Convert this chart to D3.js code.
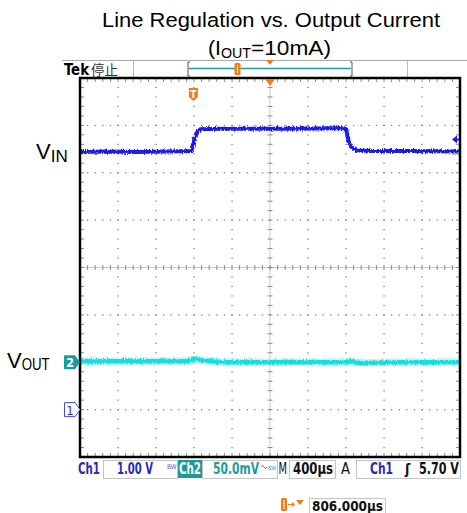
<!DOCTYPE html>
<html>
<head>
<meta charset="utf-8">
<script src="https://cdn.jsdelivr.net/npm/d3@7"></script>
<style>
  html, body { margin: 0; padding: 0; background: #fff; }
  svg { display: block; }
</style>
</head>
<body>
<svg id="chart" width="467" height="513"></svg>
<script>
// scope settings
const timePerDiv = 400;      // µs
const triggerDelay = 806;    // µs, trigger -> center
const ch1Scale = 1.0;        // V/div
const ch2Scale = 50;         // mV/div
const ch1Ground = -1;        // V at bottom of screen (ground marker 1 div above bottom)
const ch2Offset = -100;      // mV at bottom of screen

// VIN (Ch1) trace, time µs / volts
const vinT = [-1194, -900, -600, -300, -21, 3, 39, 74, 300, 700, 1100, 1450, 1590, 1607, 1635, 1671, 1723, 1900, 2300, 2806];
const vinV = [5.44, 5.45, 5.44, 5.45, 5.46, 5.66, 5.85, 5.92, 5.93, 5.93, 5.93, 5.94, 5.94, 5.92, 5.66, 5.53, 5.47, 5.46, 5.46, 5.45];

// VOUT (Ch2) trace, time µs / mV
const voutT = [-1194, -800, -400, -60, -10, 20, 80, 300, 800, 1200, 1600, 1660, 1760, 2200, 2806];
const voutV = [1, 1, 1, 1, 3, 4, 2, 0, 0, 0, 0, 1, -1, 0, 0];

// status bar
const statusCh1 = "1.00 V";
const statusCh2 = "50.0mV";
const statusTime = "400µs";
const statusTrig = "5.70 V";
const triggerLevel = 5.70;
const delayText = "806.000µs";

const svg = d3.select("#chart");
const blue = "#1e1ee6", cyan = "#18dede", teal = "#1c9b9b", orange = "#f27b1c";
const tekFont = "'DejaVu Sans Condensed', 'DejaVu Sans', sans-serif";
const arial = "'Liberation Sans', Arial, sans-serif";

const L = 80, R = 460, T = 78, B = 457;
const gx = d3.scaleLinear().domain([0, 10]).range([L, R]);
const gy = d3.scaleLinear().domain([0, 8]).range([T, B]);
const x = d3.scaleLinear().domain([triggerDelay - 5 * timePerDiv, triggerDelay + 5 * timePerDiv]).range([L, R]);
const y1 = d3.scaleLinear().domain([ch1Ground, ch1Ground + 8 * ch1Scale]).range([B, T]);
const y2 = d3.scaleLinear().domain([ch2Offset, ch2Offset + 8 * ch2Scale]).range([B, T]);

// noise filter for traces
const defs = svg.append("defs");
const f = defs.append("filter").attr("id", "noise").attr("x", "-5%").attr("y", "-50%").attr("width", "110%").attr("height", "200%");
f.append("feTurbulence").attr("type", "fractalNoise").attr("baseFrequency", "0.9 0.35").attr("numOctaves", 2).attr("seed", 3).attr("result", "t");
f.append("feDisplacementMap").attr("in", "SourceGraphic").attr("in2", "t").attr("scale", 4)
  .attr("xChannelSelector", "R").attr("yChannelSelector", "G");
defs.append("clipPath").attr("id", "scr").append("rect").attr("x", L + 1).attr("y", T + 1).attr("width", R - L - 2).attr("height", B - T - 2);

// ---- title ----
svg.append("text").attr("x", 102).attr("y", 27)
  .attr("font-family", arial).attr("font-size", 20).attr("fill", "#000")
  .attr("textLength", 338).attr("lengthAdjust", "spacingAndGlyphs")
  .text("Line Regulation vs. Output Current");
const sub = svg.append("text").attr("x", 208).attr("y", 55)
  .attr("font-family", arial).attr("font-size", 20).attr("fill", "#000");
sub.append("tspan").attr("textLength", 13).attr("lengthAdjust", "spacingAndGlyphs").text("(I");
sub.append("tspan").attr("font-size", 15).attr("dy", 3).attr("textLength", 30).attr("lengthAdjust", "spacingAndGlyphs").text("OUT");
sub.append("tspan").attr("dy", -3).attr("textLength", 80).attr("lengthAdjust", "spacingAndGlyphs").text("=10mA)");

// ---- top bar ----
svg.append("line").attr("x1", 62).attr("x2", 467).attr("y1", 60.5).attr("y2", 60.5).attr("stroke", "#aaa");
[133, 407].forEach(v => svg.append("line").attr("x1", v + .5).attr("x2", v + .5).attr("y1", 61).attr("y2", 77).attr("stroke", "#bbb"));
svg.append("text").attr("x", 64).attr("y", 75).attr("font-family", tekFont).attr("font-weight", "bold")
  .attr("font-size", 15).attr("textLength", 25).attr("lengthAdjust", "spacingAndGlyphs").text("Tek");
svg.append("text").attr("x", 91).attr("y", 75).attr("font-family", "'Noto Sans CJK SC', sans-serif")
  .attr("font-size", 13.5).attr("fill", "#333").text("停止");
// record window bracket
svg.append("path").attr("d", "M190,62 h-2 v14 h2 M350,62 h2 v14 h-2").attr("fill", "none").attr("stroke", "#555");
svg.append("line").attr("x1", 189).attr("x2", 351).attr("y1", 68.5).attr("y2", 68.5).attr("stroke", teal).attr("stroke-width", 1.5);
svg.append("rect").attr("x", 234.5).attr("y", 63).attr("width", 6).attr("height", 12).attr("rx", 1.5).attr("fill", orange);
svg.append("line").attr("x1", 237.5).attr("x2", 237.5).attr("y1", 65).attr("y2", 73).attr("stroke", "#fff").attr("stroke-width", 1);
svg.append("path").attr("d", "M266,60 h8 l-4,5 z").attr("fill", orange);

// ---- screen ----
const scr = svg.append("g");
scr.append("rect").attr("x", L).attr("y", T).attr("width", R - L).attr("height", B - T).attr("fill", "#fff");

const grid = scr.append("g").attr("fill", "#808080");
const subX = d3.range(0, 50.001, 1).map(i => gx(i / 5));
const subY = d3.range(0, 40.001, 1).map(i => gy(i / 5));
// dotted gridlines
d3.range(1, 10).filter(i => i !== 5).forEach(i => {
  grid.selectAll(null).data(subY).join("rect")
    .attr("x", gx(i) - .6).attr("y", d => d - .6).attr("width", 1.3).attr("height", 1.3);
});
d3.range(1, 8).filter(j => j !== 4).forEach(j => {
  grid.selectAll(null).data(subX).join("rect")
    .attr("x", d => d - .6).attr("y", gy(j) - .6).attr("width", 1.3).attr("height", 1.3);
});
// center cross
const cx = gx(5), cy = gy(4);
scr.append("line").attr("x1", cx).attr("x2", cx).attr("y1", T).attr("y2", B).attr("stroke", "#c8c8c8");
scr.append("line").attr("x1", L).attr("x2", R).attr("y1", cy).attr("y2", cy).attr("stroke", "#c8c8c8");
scr.selectAll(null).data(subY).join("line")
  .attr("x1", cx - 2.5).attr("x2", cx + 2.5).attr("y1", d => d).attr("y2", d => d).attr("stroke", "#8a8a8a");
scr.selectAll(null).data(subX).join("line")
  .attr("x1", d => d).attr("x2", d => d).attr("y1", cy - 2.5).attr("y2", cy + 2.5).attr("stroke", "#8a8a8a");
// edge ticks
scr.selectAll(null).data(subX).join("line")
  .attr("x1", d => d).attr("x2", d => d).attr("y1", T).attr("y2", T + 4).attr("stroke", "#8a8a8a");
scr.selectAll(null).data(subX).join("line")
  .attr("x1", d => d).attr("x2", d => d).attr("y1", B - 4).attr("y2", B).attr("stroke", "#8a8a8a");
scr.selectAll(null).data(subY).join("line")
  .attr("x1", L).attr("x2", L + 4).attr("y1", d => d).attr("y2", d => d).attr("stroke", "#8a8a8a");
scr.selectAll(null).data(subY).join("line")
  .attr("x1", R - 4).attr("x2", R).attr("y1", d => d).attr("y2", d => d).attr("stroke", "#8a8a8a");

// traces
const traces = scr.append("g").attr("clip-path", "url(#scr)");
const vout = d3.zip(voutT, voutV);
const vin = d3.zip(vinT, vinV);
const line2 = d3.line().x(d => x(d[0])).y(d => y2(d[1]));
const line1 = d3.line().x(d => x(d[0])).y(d => y1(d[1]));
traces.append("path").attr("d", line2(vout)).attr("fill", "none").attr("stroke", "#8ef0f0").attr("stroke-width", 8).attr("opacity", 0.55).attr("filter", "url(#noise)");
traces.append("path").attr("d", line2(vout)).attr("fill", "none").attr("stroke", cyan).attr("stroke-width", 4.5).attr("filter", "url(#noise)");
traces.append("path").attr("d", line1(vin)).attr("fill", "none").attr("stroke", blue).attr("stroke-width", 4).attr("filter", "url(#noise)");

// frame
scr.append("rect").attr("x", L).attr("y", T).attr("width", R - L).attr("height", B - T)
  .attr("fill", "none").attr("stroke", "#000").attr("stroke-width", 2.5);

// trigger position markers
svg.append("path").attr("d", `M${cx - 5},${T + 1} h10 l-5,7 z`).attr("fill", orange);
const tx = x(0);
svg.append("path").attr("d", `M${tx - 4.5},${T + 10} h9 v9 l-4.5,4 l-4.5,-4 z`).attr("fill", orange);
svg.append("text").attr("x", tx).attr("y", T + 20).attr("text-anchor", "middle").attr("font-family", tekFont)
  .attr("font-weight", "bold").attr("font-size", 10).attr("fill", "#fff").text("T");

// trigger level arrow (right)
const ty = y1(triggerLevel);
svg.append("path").attr("d", `M452,${ty} l5,-4 v8 z`).attr("fill", blue);
svg.append("line").attr("x1", 455).attr("x2", 459).attr("y1", ty).attr("y2", ty).attr("stroke", blue).attr("stroke-width", 2);

// channel markers
const m2 = y2(0);
svg.append("path").attr("d", `M64,${m2 - 7} h11 l5,7 l-5,7 h-11 z`).attr("fill", teal);
svg.append("text").attr("x", 70).attr("y", m2 + 5).attr("text-anchor", "middle").attr("font-family", tekFont)
  .attr("font-weight", "bold").attr("font-size", 13).attr("fill", "#fff").text("2");
const m1 = y1(0);
svg.append("path").attr("d", `M64.5,${m1 - 7} h10.5 l5,7 l-5,7 h-10.5 z`).attr("fill", "#fff").attr("stroke", "#4848d8");
svg.append("text").attr("x", 70).attr("y", m1 + 5).attr("text-anchor", "middle").attr("font-family", tekFont)
  .attr("font-size", 13).attr("fill", "#3030c8").text("1");

// labels
const lin = svg.append("text").attr("x", 36).attr("y", 159).attr("font-family", arial).attr("font-size", 22).attr("fill", "#000");
lin.append("tspan").text("V");
lin.append("tspan").attr("font-size", 17).attr("dy", 3).text("IN");
const lout = svg.append("text").attr("x", 7).attr("y", 368).attr("font-family", arial).attr("font-size", 22).attr("fill", "#000");
lout.append("tspan").text("V");
lout.append("tspan").attr("font-size", 16).attr("dy", 2).attr("textLength", 28).attr("lengthAdjust", "spacingAndGlyphs").text("OUT");

// ---- status bar ----
const sb = svg.append("g").attr("font-family", tekFont).attr("font-size", 15);
const by = 474;
const box = (x0, x1, y0 = 460, y1b = 478) => sb.append("rect").attr("x", x0 + .5).attr("y", y0 + .5).attr("width", x1 - x0).attr("height", y1b - y0)
  .attr("fill", "none").attr("stroke", "#c4c4c4");
const txt = (x0, s, w, fill, weight) => sb.append("text").attr("x", x0).attr("y", by).attr("fill", fill)
  .attr("font-weight", weight || "bold").attr("textLength", w).attr("lengthAdjust", "spacingAndGlyphs").text(s);

txt(78, "Ch1", 22, "#2a2ab4");
box(103, 177);
txt(117, statusCh1, 36, "#2a2ab4");
sb.append("text").attr("x", 167).attr("y", 469).attr("font-size", 6.5).attr("fill", "#6060c0").text("BW");
sb.append("rect").attr("x", 178).attr("y", 460).attr("width", 24).attr("height", 18).attr("fill", teal);
txt(179, "Ch2", 22, "#fff");
box(202, 277);
// squeeze the Ch2 scale text horizontally so its box stays clear of the icons
const ch2Txt = sb.append("text").attr("fill", teal).attr("font-weight", "bold").text(statusCh2);
const k = Math.min(1, 46 / ch2Txt.node().getComputedTextLength());
ch2Txt.attr("transform", `translate(213,${by}) scale(${k},1)`);
// coupling (AC) and bandwidth icons
sb.append("path").attr("d", "M261,467 q1.5,-3 3,0 t3,0").attr("fill", "none").attr("stroke", teal).attr("stroke-width", 1);
sb.append("text").attr("x", 268).attr("y", 470).attr("font-size", 5.5).attr("fill", teal)
  .attr("textLength", 8).attr("lengthAdjust", "spacingAndGlyphs").text("BW");
txt(278.5, "M", 8.5, "#111", "normal");
box(289, 335);
txt(293, statusTime, 40, "#111");
txt(341, "A", 9, "#111", "normal");
box(356, 460);
txt(370, "Ch1", 23, "#2a2ab4");
sb.append("text").attr("x", 405).attr("y", by).attr("font-size", 14).attr("font-weight", "bold").attr("fill", "#111").text("ʃ");
txt(419, statusTrig, 40, "#111");

// delay readout
svg.append("rect").attr("x", 281).attr("y", 498).attr("width", 6).attr("height", 13).attr("rx", 1.5).attr("fill", orange);
svg.append("line").attr("x1", 284).attr("x2", 284).attr("y1", 500).attr("y2", 509).attr("stroke", "#fff");
svg.append("line").attr("x1", 288).attr("x2", 294).attr("y1", 504.5).attr("y2", 504.5).attr("stroke", orange).attr("stroke-width", 1.2);
svg.append("path").attr("d", "M292,502 l3,2.5 l-3,2.5 z").attr("fill", orange);
svg.append("path").attr("d", "M296,500 h8 l-4,5 z").attr("fill", orange);
svg.append("rect").attr("x", 309.5).attr("y", 498.5).attr("width", 76).attr("height", 16).attr("fill", "none").attr("stroke", "#c4c4c4");
svg.append("text").attr("x", 312).attr("y", 511).attr("font-family", tekFont).attr("font-weight", "bold").attr("font-size", 14)
  .attr("fill", "#111").attr("textLength", 71).attr("lengthAdjust", "spacingAndGlyphs").text(delayText);
</script>
</body>
</html>
